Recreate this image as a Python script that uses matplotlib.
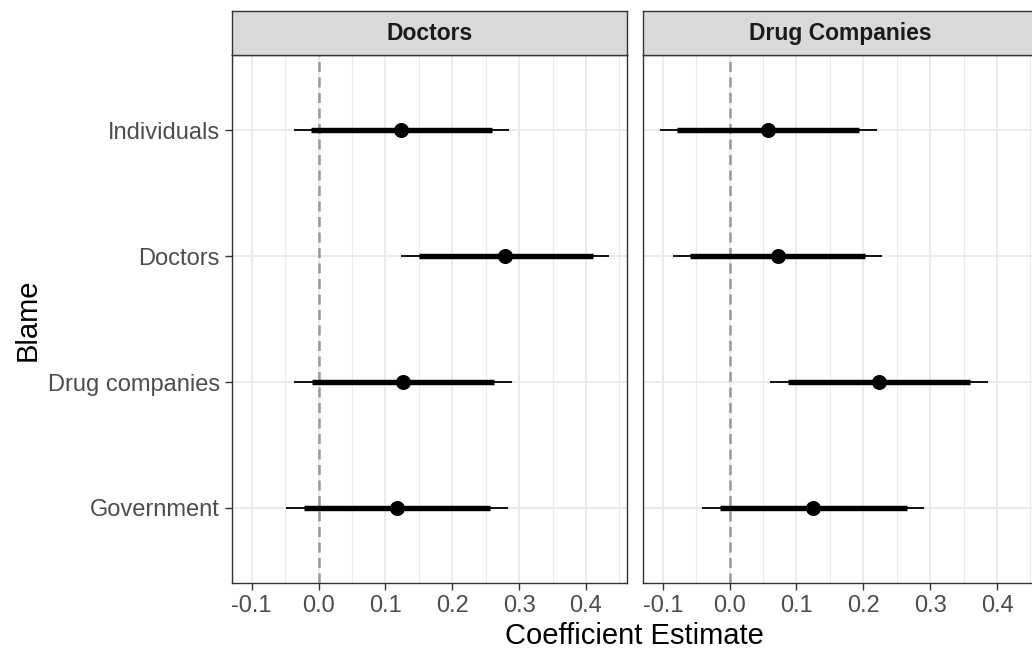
import matplotlib
matplotlib.use("Agg")
import matplotlib.pyplot as plt
import numpy as np

plt.rcParams['font.family'] = ['Liberation Sans', 'DejaVu Sans']

blame = ['Individuals', 'Doctors', 'Drug companies', 'Government']
panels = ['Doctors', 'Drug Companies']

# point estimates, inner (thick) and outer (thin) intervals per panel
est = {
    'Doctors': [0.124, 0.279, 0.126, 0.118],
    'Drug Companies': [0.058, 0.072, 0.224, 0.125],
}
inner_lo = {
    'Doctors': [-0.011, 0.150, -0.010, -0.022],
    'Drug Companies': [-0.078, -0.059, 0.087, -0.015],
}
inner_hi = {
    'Doctors': [0.259, 0.410, 0.262, 0.257],
    'Drug Companies': [0.194, 0.203, 0.359, 0.265],
}
outer_lo = {
    'Doctors': [-0.037, 0.123, -0.037, -0.048],
    'Drug Companies': [-0.104, -0.085, 0.061, -0.042],
}
outer_hi = {
    'Doctors': [0.285, 0.435, 0.289, 0.284],
    'Drug Companies': [0.220, 0.228, 0.386, 0.291],
}

xticks = [-0.1, 0.0, 0.1, 0.2, 0.3, 0.4]
xminor = [-0.05, 0.05, 0.15, 0.25, 0.35, 0.45]

fig = plt.figure(figsize=(10.32, 6.52), dpi=100)
lefts = [0.2245, 0.6228]
w, b, h = 0.3828, 0.1054, 0.8102
strip_h = 0.0672

ypos = np.arange(len(blame))
for i, name in enumerate(panels):
    ax = fig.add_axes([lefts[i], b, w, h])
    ax.set_xlim(-0.130, 0.461)
    ax.set_ylim(len(blame) - 0.4, -0.6)

    for x in xminor:
        ax.axvline(x, color='#EBEBEB', lw=0.8, zorder=0)
    for x in xticks:
        ax.axvline(x, color='#EBEBEB', lw=1.4, zorder=0)
    for y in ypos:
        ax.axhline(y, color='#EBEBEB', lw=1.4, zorder=0)

    ax.axvline(0, color='#999999', lw=1.8, ls=(0, (4, 2.2)), zorder=1)

    ax.hlines(ypos, outer_lo[name], outer_hi[name], color='black', lw=1.3, zorder=2)
    ax.hlines(ypos, inner_lo[name], inner_hi[name], color='black', lw=3.9, zorder=3)
    ax.plot(est[name], ypos, 'o', color='black', ms=9.8, zorder=4)

    ax.set_xticks(xticks)
    ax.set_xticklabels(['-0.1', '0.0', '0.1', '0.2', '0.3', '0.4'])
    ax.set_yticks(ypos)
    if i == 0:
        ax.set_yticklabels(blame)
    else:
        ax.tick_params(axis='y', left=False, labelleft=False)
    ax.tick_params(length=5, width=1, color='#333333', labelcolor='#4D4D4D',
                   labelsize=17, pad=3.5)
    for s in ax.spines.values():
        s.set_color('#333333')
        s.set_linewidth(1)

    sax = fig.add_axes([lefts[i], b + h, w, strip_h])
    sax.set_facecolor('#D9D9D9')
    sax.set_xticks([])
    sax.set_yticks([])
    for s in sax.spines.values():
        s.set_color('#333333')
        s.set_linewidth(1)
    sax.text(0.5, 0.5, name, ha='center', va='center', fontsize=16.5,
             fontweight='bold', color='#1A1A1A', transform=sax.transAxes)

fig.text(0.6150, 0.025, 'Coefficient Estimate', ha='center', va='center', fontsize=21)
fig.text(0.027, 0.51, 'Blame', ha='center', va='center', rotation=90, fontsize=21)

fig.savefig('out.png', dpi=100)
